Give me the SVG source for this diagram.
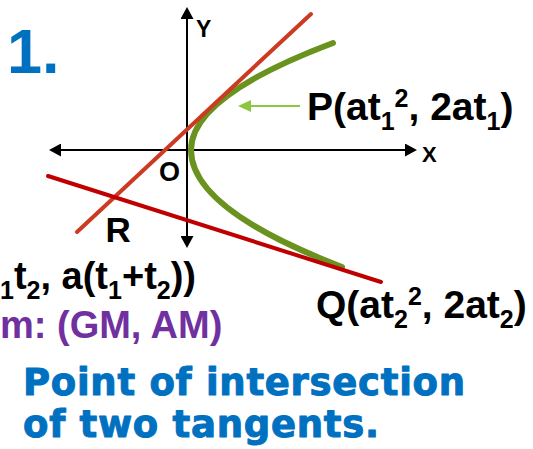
<svg xmlns="http://www.w3.org/2000/svg" width="533" height="449" viewBox="0 0 533 449">
<style>
.lbl{font-family:"Liberation Sans",Arial,sans-serif;font-weight:bold;fill:#000}
.blue{font-family:"DejaVu Sans","Liberation Sans",sans-serif;font-weight:bold;fill:#0070C0;stroke:#0070C0;stroke-width:1;stroke-linejoin:round}
.axis{stroke:#000;stroke-width:2;fill:none}
.sub{font-size:25px}
</style>
<defs>
<marker id="ah" viewBox="0 0 12 13" refX="1" refY="6.5" markerWidth="12" markerHeight="13" orient="auto-start-reverse" markerUnits="userSpaceOnUse"><path d="M0,0 L12,6.5 L0,13 z" fill="#000"/></marker>
<marker id="gh" viewBox="0 0 13 12" refX="1" refY="6" markerWidth="13" markerHeight="12" orient="auto" markerUnits="userSpaceOnUse"><path d="M0,0 L13,6 L0,12 z" fill="#8DC63F"/></marker>
</defs>
<rect width="533" height="449" fill="#fff"/>
<g id="title"><text x="7" y="73" font-family="Liberation Sans,Arial,sans-serif" font-weight="bold" font-size="63" fill="#0070C0">1.</text></g>
<g id="axes">
<line class="axis" x1="60" y1="150" x2="406" y2="150" marker-start="url(#ah)" marker-end="url(#ah)"/>
<line class="axis" x1="187" y1="237" x2="187" y2="18" marker-start="url(#ah)" marker-end="url(#ah)"/>
<text class="lbl" x="196" y="37" font-size="23">Y</text>
<text class="lbl" x="422" y="162" font-size="22">X</text>
<text class="lbl" x="159" y="181" font-size="27">O</text>
</g>
<g id="parabola"><path d="M333,43 Q191,96.5 191,150 Q191,209 342,267" fill="none" stroke="#6A921E" stroke-width="6" stroke-linecap="round"/></g>
<g id="tangent-P"><line x1="311" y1="14" x2="77" y2="232" stroke="#CC3A22" stroke-width="4" stroke-linecap="round"/></g>
<g id="tangent-Q"><line x1="48" y1="176" x2="381" y2="282" stroke="#C00000" stroke-width="4" stroke-linecap="round"/></g>
<g id="connectors"><line x1="300" y1="106" x2="250" y2="106" stroke="#8DC63F" stroke-width="2" marker-end="url(#gh)"/></g>
<g id="R"><text class="lbl" x="105.5" y="242" font-size="35">R</text></g>
<g id="P-label"><text class="lbl" x="307" y="120" font-size="39">P(at<tspan class="sub" dy="10">1</tspan><tspan class="sub" dy="-23">2</tspan><tspan dy="13">, 2at</tspan><tspan class="sub" dy="10">1</tspan><tspan dy="-10">)</tspan></text></g>
<g id="Q-label"><text class="lbl" x="316" y="318" font-size="39">Q(at<tspan class="sub" dy="10">2</tspan><tspan class="sub" dy="-23">2</tspan><tspan dy="13">, 2at</tspan><tspan class="sub" dy="10">2</tspan><tspan dy="-10">)</tspan></text></g>
<g id="R-coords"><text class="lbl" x="0" y="299" font-size="38"><tspan class="sub">1</tspan><tspan dy="-10">t</tspan><tspan class="sub" dy="10">2</tspan><tspan dy="-10">, a(t</tspan><tspan class="sub" dy="10">1</tspan><tspan dy="-10">+t</tspan><tspan class="sub" dy="10">2</tspan><tspan dy="-10">))</tspan></text></g>
<g id="form"><text x="0" y="338" font-family="Liberation Sans,Arial,sans-serif" font-weight="bold" font-size="38" fill="#7030A0">m: (GM, AM)</text></g>
<g id="caption">
<text class="blue" x="23" y="395" font-size="37" textLength="442" lengthAdjust="spacing">Point of intersection</text>
<text class="blue" x="23" y="437" font-size="37" textLength="356" lengthAdjust="spacing">of two tangents.</text>
</g>
</svg>
